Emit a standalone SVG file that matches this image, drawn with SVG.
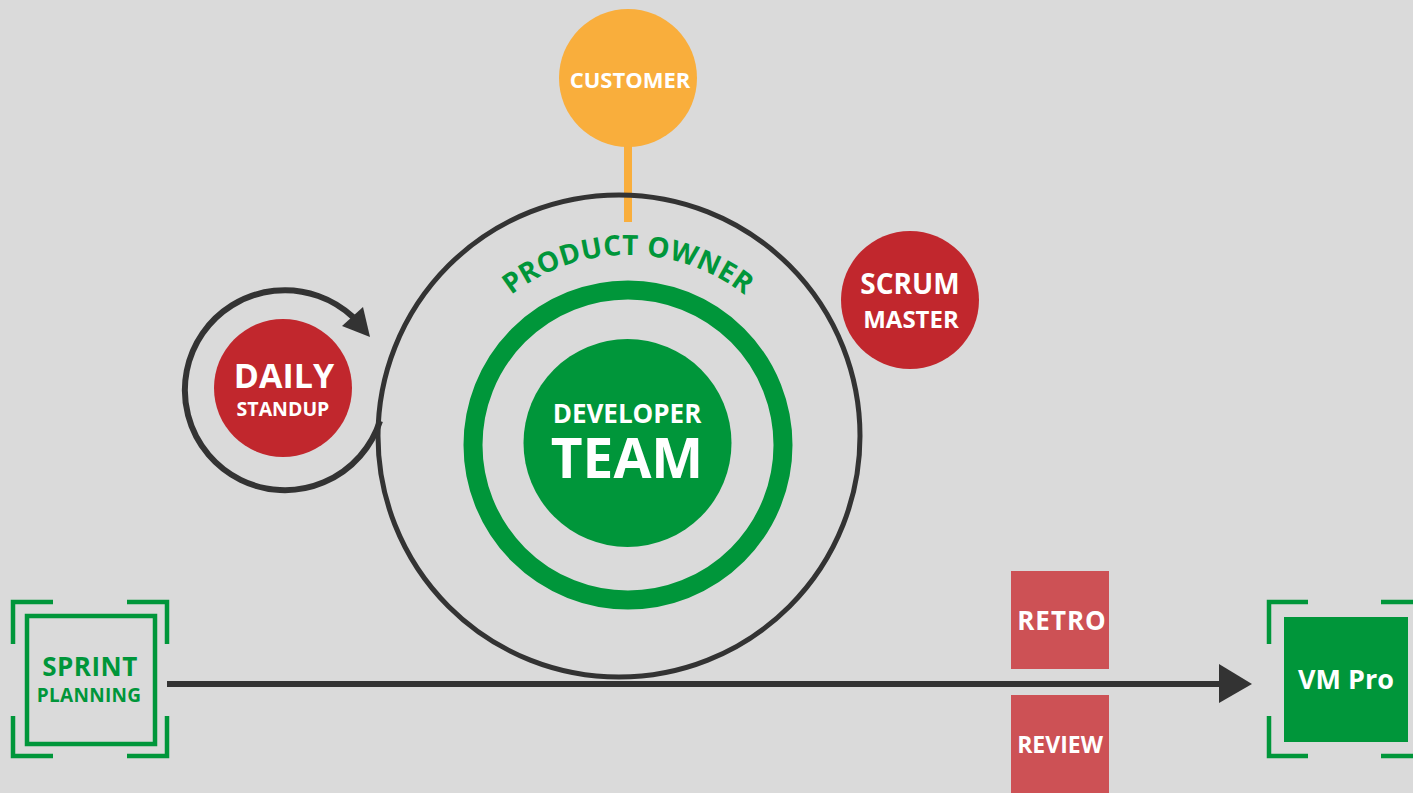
<svg xmlns="http://www.w3.org/2000/svg" xmlns:xlink="http://www.w3.org/1999/xlink" width="1413" height="793" viewBox="0 0 1413 793">
<style>
text { font-family: "Open Sans", "Liberation Sans", sans-serif; font-weight: 700; text-anchor: middle; }
.w { fill: #ffffff; }
.g { fill: #00963A; }
.dark { stroke: #333333; fill: none; }
.bracket { stroke: #00963A; stroke-width: 4.5; fill: none; }
</style>
<defs>
<path id="poArc" d="M 438 445 A 190 190 0 0 1 818 445"/>
</defs>
<rect width="1413" height="793" fill="#DADADA"/>

<g id="connectors">
  <line x1="628" y1="146" x2="628" y2="222" stroke="#F9AE3C" stroke-width="8"/>
  <line x1="167" y1="684" x2="1222" y2="684" stroke="#333333" stroke-width="6"/>
  <polygon points="1219,664 1252,684 1219,703" fill="#333333"/>
  <path class="dark" stroke-width="6" d="M 380 421 A 100 100 0 1 1 353 317"/>
  <polygon points="342,326 363,307 370,337" fill="#333333"/>
</g>

<g id="product-owner">
  <circle cx="619" cy="436" r="241" class="dark" stroke-width="5"/>
  <circle cx="628" cy="445" r="155" fill="none" stroke="#00963A" stroke-width="19"/>
  <text class="g" font-size="28" letter-spacing="0.3"><textPath xlink:href="#poArc" href="#poArc" startOffset="50%">PRODUCT OWNER</textPath></text>
</g>

<g id="developer-team">
  <circle cx="627.5" cy="443" r="104" fill="#00963A"/>
  <text class="w" x="627" y="423" font-size="26">DEVELOPER</text>
  <text class="w" x="627" y="478" font-size="55">TEAM</text>
</g>

<g id="customer">
  <circle cx="628" cy="78" r="69" fill="#F9AE3C"/>
  <text class="w" x="630" y="88" font-size="22">CUSTOMER</text>
</g>

<g id="scrum-master">
  <circle cx="910" cy="300" r="69" fill="#C1272D"/>
  <text class="w" x="910" y="294" font-size="28">SCRUM</text>
  <text class="w" x="911" y="328" font-size="24">MASTER</text>
</g>

<g id="daily-standup">
  <circle cx="283" cy="388" r="69" fill="#C1272D"/>
  <text class="w" x="284" y="388" font-size="34">DAILY</text>
  <text class="w" x="283" y="416" font-size="19.5">STANDUP</text>
</g>

<g id="sprint-planning">
  <rect x="27" y="616" width="128" height="128" fill="none" stroke="#00963A" stroke-width="4.5"/>
  <path class="bracket" d="M 13 644 V 602 H 53 M 127 602 H 167 V 644 M 13 716 V 756 H 53 M 127 756 H 167 V 716"/>
  <text class="g" x="90" y="676" font-size="26" letter-spacing="0.5">SPRINT</text>
  <text class="g" x="89" y="702" font-size="19" letter-spacing="0.3">PLANNING</text>
</g>

<g id="retro">
  <rect x="1011" y="571" width="98" height="98" fill="#CD5155"/>
  <text class="w" x="1062" y="630" font-size="26" letter-spacing="1">RETRO</text>
</g>

<g id="review">
  <rect x="1011" y="695" width="98" height="100" fill="#CD5155"/>
  <text class="w" x="1060" y="753" font-size="23">REVIEW</text>
</g>

<g id="vm-pro">
  <rect x="1284" y="617" width="124" height="125" fill="#00963A"/>
  <path class="bracket" d="M 1269 644 V 602 H 1308 M 1381 602 H 1425 M 1269 716 V 756 H 1308 M 1381 756 H 1425"/>
  <text class="w" x="1346" y="689" font-size="27">VM Pro</text>
</g>
</svg>
